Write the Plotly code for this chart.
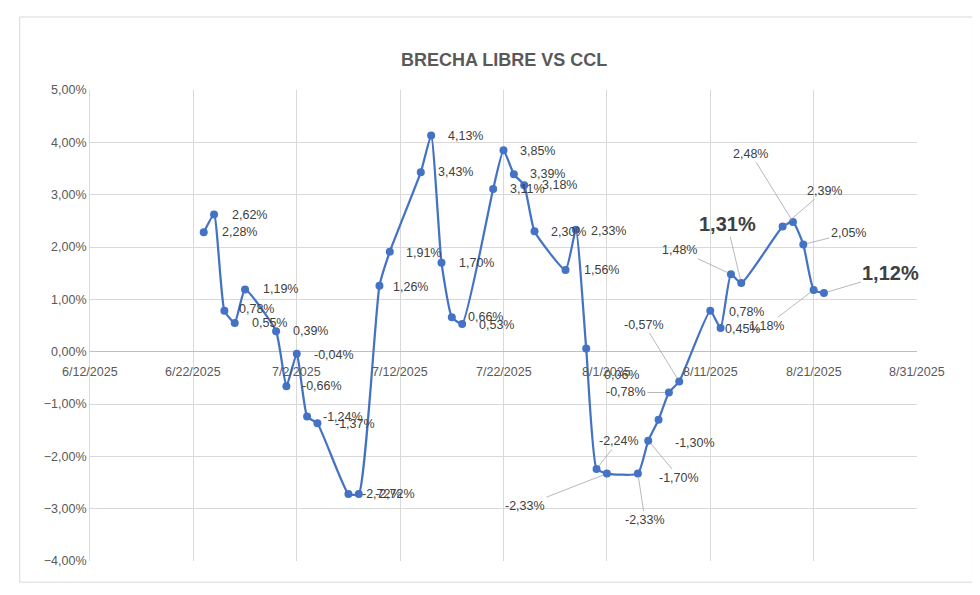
import plotly.graph_objects as go

dates = ["2025-06-23","2025-06-24","2025-06-25","2025-06-26","2025-06-27","2025-06-30","2025-07-01","2025-07-02","2025-07-03","2025-07-04",
         "2025-07-07","2025-07-08","2025-07-10","2025-07-11","2025-07-14","2025-07-15","2025-07-16","2025-07-17","2025-07-18",
         "2025-07-21","2025-07-22","2025-07-23","2025-07-24","2025-07-25","2025-07-28","2025-07-29","2025-07-30","2025-07-31","2025-08-01",
         "2025-08-04","2025-08-05","2025-08-06","2025-08-07","2025-08-08","2025-08-11","2025-08-12","2025-08-13","2025-08-14",
         "2025-08-18","2025-08-19","2025-08-20","2025-08-21","2025-08-22"]
brecha = [2.28,2.62,0.78,0.55,1.19,0.39,-0.66,-0.04,-1.24,-1.37,
          -2.72,-2.72,1.26,1.91,3.43,4.13,1.70,0.66,0.53,
          3.11,3.85,3.39,3.18,2.30,1.56,2.33,0.06,-2.24,-2.33,
          -2.33,-1.70,-1.30,-0.78,-0.57,0.78,0.45,1.48,1.31,
          2.39,2.48,2.05,1.18,1.12]
x_ticks = ["2025-06-12","2025-06-22","2025-07-02","2025-07-12","2025-07-22","2025-08-01","2025-08-11","2025-08-21","2025-08-31"]
x_tick_text = ["6/12/2025","6/22/2025","7/2/2025","7/12/2025","7/22/2025","8/1/2025","8/11/2025","8/21/2025","8/31/2025"]

# label offsets (dx, dy in px, leader line?)
offsets = [(36,0,0),(35,0,0),(32,-2,0),(35,0,0),(35,0,0),(34,0,0),(36,0,0),(37,1,0),(36,0,0),(38,1,0),
           (34,0,0),(36,0,0),(31,1,0),(34,1,0),(35,0,0),(34,0,0),(35,0,0),(34,0,0),(34,1,0),
           (34,0,0),(34,1,0),(34,0,0),(35,0,0),(34,1,0),(36,0,0),(33,1,0),(35,26,0),(22,-28,1),(-82,32,1),
           (7,46,1),(31,37,1),(36,23,1),(-43,0,1),(-35,-57,1),(36,1,0),(22,1,0),(-51,-24,1),(-14,-59,1),
           (42,-36,1),(-42,-68,1),(45,-11,1),(-47,36,1),(67,-20,1)]
bold = {37, 42}

def fmt(v):
    return ("%.2f%%" % v).replace(".", ",")

fig = go.Figure()
fig.add_trace(go.Scatter(x=dates, y=[v/100 for v in brecha], mode="lines+markers",
                         line=dict(color="#4472C4", width=2.25, shape="spline", smoothing=0.45),
                         marker=dict(color="#4472C4", size=8)))
anns = []
for i, (d, v) in enumerate(zip(dates, brecha)):
    dx, dy, lead = offsets[i]
    anns.append(dict(x=d, y=v/100, xref="x", yref="y", text=("<b>%s</b>" % fmt(v)) if i in bold else fmt(v),
                     showarrow=True, ax=dx, ay=dy, axref="pixel", ayref="pixel",
                     arrowhead=0, arrowwidth=0.8, standoff=4,
                     arrowcolor="#a6a6a6" if lead else "rgba(0,0,0,0)",
                     font=dict(size=20 if i in bold else 12.5, color="#404040")))
for t, tt in zip(x_ticks, x_tick_text):
    anns.append(dict(x=t, y=0, xref="x", yref="y", text=tt, showarrow=False, yshift=-20,
                     font=dict(size=12.5, color="#595959")))
anns.append(dict(x=0.5, y=1.09, xref="paper", yref="paper", text="<b>BRECHA LIBRE VS CCL</b>", showarrow=False,
                 font=dict(size=18, color="#595959")))

fig.update_layout(
    width=980, height=595, paper_bgcolor="white", plot_bgcolor="white",
    margin=dict(l=82, r=71, t=82, b=42, autoexpand=False), showlegend=False, separators=",.",
    font=dict(family="Liberation Sans, Arial", color="#595959"),
    annotations=anns,
    shapes=[dict(type="rect", xref="paper", yref="paper", x0=-0.085, x1=1.067, y0=-0.045, y1=1.155,
                 line=dict(color="#d9d9d9", width=1))],
    xaxis=dict(type="date", range=["2025-06-12","2025-08-31"], tickvals=x_ticks, showticklabels=False,
               showgrid=True, gridcolor="#d9d9d9", zeroline=False, automargin=False),
    yaxis=dict(range=[-0.04,0.05], dtick=0.01, tickformat=".2%", showgrid=True, gridcolor="#d9d9d9",
               zeroline=True, zerolinecolor="#bfbfbf", zerolinewidth=1, tickfont=dict(size=12.5, color="#595959"),
               showline=True, linecolor="#d9d9d9", automargin=False),
)
fig.write_html("out.html")
